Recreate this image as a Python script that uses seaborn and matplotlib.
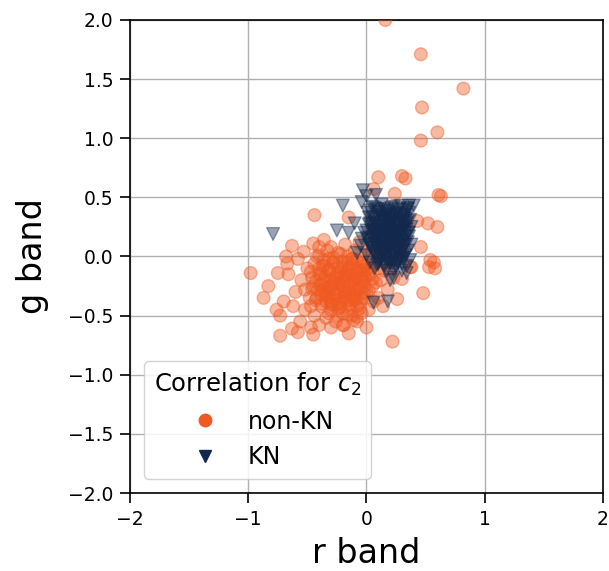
import numpy as np
import pandas as pd
import matplotlib
matplotlib.use("Agg")
import matplotlib.pyplot as plt
from matplotlib.lines import Line2D
import seaborn as sns

# non-KN points (r band, g band): scattered points
nonkn_r = [0.16, 0.46, 0.82, 0.47, 0.60, 0.46, 0.30, 0.33, 0.10, 0.06, 0.24, 0.63, 0.61, -0.44, -0.15,
           0.43, 0.52, 0.60, 0.57, 0.53, 0.38, 0.30, 0.48, 0.26, 0.22, -0.98, -0.83, -0.87, -0.73, -0.73,
           -0.63, -0.47, -0.19, -0.11, -0.63, -0.45, -0.67, -0.75, 0.46, 0.54, 0.58, 0.37, 0.23,
           -0.30, -0.25, -0.20, -0.15, -0.10, -0.35, -0.40, -0.28, -0.18, -0.05,
           -0.22, -0.12, -0.02, -0.45, -0.38, -0.30, -0.20, -0.08, 0.00, 0.03,
           -0.50, -0.48, -0.42, -0.33, -0.26, -0.14, -0.07, -0.36, -0.24, -0.16,
           -0.55, -0.52, -0.44, -0.34, -0.26, -0.12, -0.04, 0.05, 0.08, 0.02,
           -0.10, -0.18, -0.30, -0.40, -0.58, -0.60, -0.62, -0.56, -0.40, -0.30,
           -0.20, -0.08, 0.02, 0.10, 0.12, 0.10, -0.32, -0.22, -0.12, -0.02,
           -0.28, -0.18, -0.08, -0.38, -0.46, -0.34, -0.24, -0.14, -0.04, 0.06,
           -0.27, -0.17, -0.21, -0.11, -0.31, -0.19, -0.09, -0.01, -0.41, -0.47,
           -0.66, -0.70, -0.53, -0.36, -0.06, 0.05, 0.12, 0.15, 0.18, 0.14,
           -0.68, -0.76, -0.58, -0.45, -0.15, 0.00, 0.20, 0.25, 0.30, 0.20,
           -0.33, -0.23, -0.13, -0.03, -0.37, -0.29, -0.09, -0.43, 0.08, -0.52]
nonkn_g = [2.00, 1.71, 1.42, 1.26, 1.05, 0.98, 0.68, 0.66, 0.67, 0.57, 0.53, 0.51, 0.52, 0.35, 0.33,
           0.30, 0.28, 0.25, -0.05, -0.09, -0.09, -0.19, -0.31, -0.36, -0.72, -0.14, -0.25, -0.35, -0.50, -0.67,
           -0.61, -0.60, -0.58, -0.54, 0.09, 0.11, -0.06, -0.14, 0.08, -0.03, -0.10, -0.09, -0.18,
           -0.20, -0.15, -0.25, -0.10, -0.30, -0.30, -0.15, -0.05, -0.38, -0.20,
           0.02, -0.02, -0.08, -0.25, -0.40, -0.45, -0.48, -0.42, -0.30, -0.15,
           -0.10, -0.35, 0.00, 0.05, -0.32, -0.22, -0.12, -0.22, -0.40, -0.05,
           -0.20, -0.45, -0.50, -0.52, -0.55, -0.50, -0.35, -0.25, -0.05, 0.05,
           0.05, 0.10, 0.08, 0.08, -0.02, -0.30, -0.42, -0.55, -0.58, -0.60,
           -0.58, -0.55, -0.45, -0.35, -0.20, -0.10, -0.12, -0.18, -0.15, -0.25,
           -0.28, -0.30, -0.28, -0.32, -0.18, -0.38, -0.44, -0.44, -0.48, -0.38,
           -0.22, -0.16, -0.10, -0.20, -0.34, -0.34, -0.36, -0.18, -0.28, -0.42,
           -0.15, -0.38, 0.04, 0.14, 0.12, 0.15, 0.02, -0.12, -0.28, -0.42,
           0.00, -0.45, -0.64, -0.66, -0.65, -0.60, -0.10, -0.02, 0.05, 0.08,
           -0.26, -0.23, -0.33, -0.12, -0.08, -0.41, -0.17, -0.37, -0.22, -0.28]

# non-KN points: dense core
nonkn_core_r = [-0.40, -0.32, -0.24, -0.16, -0.08, 0.00,
                -0.44, -0.36, -0.28, -0.20, -0.12, -0.04, 0.04,
                -0.47, -0.39, -0.31, -0.23, -0.15, -0.07, 0.01,
                -0.43, -0.35, -0.27, -0.19, -0.11, -0.03, 0.05,
                -0.46, -0.38, -0.30, -0.22, -0.14, -0.06, 0.02,
                -0.42, -0.34, -0.26, -0.18, -0.10, -0.02,
                -0.38, -0.30, -0.22, -0.14, -0.06,
                -0.32, -0.24, -0.16, -0.08,
                -0.36, -0.28, -0.20, -0.12, -0.04,
                -0.40, -0.32, -0.24, -0.16, -0.08, 0.00,
                -0.35, -0.27, -0.19, -0.11, -0.03,
                -0.39, -0.31, -0.23, -0.15, -0.07,
                -0.34, -0.26, -0.18, -0.10, -0.02,
                -0.30, -0.22, -0.14, -0.06]
nonkn_core_g = [0.01, -0.02, 0.03, 0.00, -0.03, 0.02,
                -0.06, -0.08, -0.05, -0.09, -0.07, -0.06, -0.08,
                -0.13, -0.15, -0.12, -0.14, -0.16, -0.13, -0.15,
                -0.21, -0.19, -0.22, -0.20, -0.23, -0.21, -0.19,
                -0.27, -0.29, -0.26, -0.28, -0.30, -0.27, -0.29,
                -0.35, -0.33, -0.36, -0.34, -0.37, -0.35,
                -0.42, -0.40, -0.43, -0.41, -0.44,
                -0.48, -0.50, -0.49, -0.51,
                -0.03, -0.01, -0.04, -0.02, -0.05,
                -0.10, -0.11, -0.09, -0.12, -0.10, -0.11,
                -0.17, -0.18, -0.16, -0.19, -0.17,
                -0.24, -0.25, -0.23, -0.26, -0.24,
                -0.31, -0.32, -0.30, -0.33, -0.31,
                -0.38, -0.39, -0.37, -0.40]

# KN points (r band, g band): cluster and outliers
kn_r = [0.05, 0.13, 0.21, 0.29, 0.35, 0.10, 0.18, 0.26, 0.33, 0.02,
        0.08, 0.15, 0.23, 0.30, 0.37, 0.04, 0.11, 0.19, 0.27, 0.34,
        -0.02, 0.07, 0.14, 0.22, 0.29, 0.36, 0.01, 0.09, 0.17, 0.25,
        0.32, 0.38, -0.05, 0.04, 0.12, 0.20, 0.28, 0.35, -0.08, 0.00,
        0.08, 0.16, 0.24, 0.31, 0.37, 0.03, 0.11, 0.19, 0.27, 0.34,
        0.07, 0.15, 0.23, 0.30, 0.12, 0.20, 0.06, 0.24, 0.16, 0.10,
        0.28, 0.18, 0.14, 0.22, 0.26, 0.32, 0.08, 0.14, 0.20, 0.26,
        0.03, 0.31, 0.17, 0.09, 0.27, 0.35, 0.05, 0.12, 0.21, 0.33,
        0.00, 0.16, 0.24, 0.30, 0.11, 0.19, 0.27, 0.06, 0.13, 0.22,
        0.29, 0.35, 0.01, 0.38, 0.36, -0.04, 0.09, 0.17, 0.25, 0.33,
        0.15, 0.21, 0.07, 0.29, 0.18, 0.02, 0.25, 0.12, 0.31, 0.19,
        -0.79, -0.20, -0.04, -0.03, 0.00, -0.25, -0.15, 0.36, 0.40,
        0.23, 0.06, 0.18, 0.20, 0.34, -0.10, 0.08]
kn_g = [0.42, 0.44, 0.41, 0.43, 0.40, 0.38, 0.36, 0.37, 0.35, 0.33,
        0.31, 0.30, 0.32, 0.29, 0.31, 0.25, 0.26, 0.24, 0.25, 0.23,
        0.20, 0.19, 0.21, 0.18, 0.20, 0.17, 0.14, 0.13, 0.15, 0.12,
        0.14, 0.10, 0.09, 0.07, 0.08, 0.06, 0.08, 0.05, 0.03, 0.01,
        0.02, 0.00, 0.01, -0.01, -0.03, -0.05, -0.04, -0.06, -0.05, -0.08,
        -0.10, -0.09, -0.11, -0.12, 0.34, 0.28, 0.22, 0.22, 0.10, 0.18,
        0.16, 0.20, 0.26, 0.14, 0.30, 0.26, 0.10, 0.04, -0.02, 0.04,
        0.28, 0.06, 0.39, 0.40, 0.40, 0.30, 0.16, 0.13, 0.10, 0.10,
        0.22, 0.33, 0.26, 0.34, 0.22, 0.17, 0.21, 0.04, -0.01, -0.06,
        -0.02, 0.20, 0.37, 0.25, 0.37, 0.15, -0.07, -0.12, -0.09, 0.01,
        0.05, 0.35, 0.28, 0.12, 0.08, 0.10, 0.18, 0.20, 0.22, 0.30,
        0.19, 0.43, 0.46, 0.56, 0.51, 0.22, 0.20, 0.43, 0.43,
        -0.18, -0.39, -0.38, -0.20, -0.14, 0.28, 0.52]

# KN points: dense core
kn_core_r = [0.03, 0.07, 0.11, 0.15, 0.19, 0.23, 0.27, 0.31, 0.35,
             0.05, 0.09, 0.13, 0.17, 0.21, 0.25, 0.29, 0.33,
             0.02, 0.06, 0.10, 0.14, 0.18, 0.22, 0.26, 0.30, 0.34,
             0.04, 0.08, 0.12, 0.16, 0.20, 0.24, 0.28, 0.32, 0.36,
             0.01, 0.05, 0.09, 0.13, 0.17, 0.21, 0.25, 0.29, 0.33,
             0.03, 0.07, 0.11, 0.15, 0.19, 0.23, 0.27, 0.31, 0.35,
             0.06, 0.10, 0.14, 0.18, 0.22, 0.26, 0.30,
             0.08, 0.12, 0.16, 0.20, 0.24, 0.28, 0.32,
             0.10, 0.15, 0.20, 0.25, 0.30]
kn_core_g = [0.39, 0.41, 0.37, 0.40, 0.38, 0.42, 0.36, 0.39, 0.41,
             0.33, 0.35, 0.32, 0.34, 0.31, 0.36, 0.33, 0.32,
             0.27, 0.29, 0.26, 0.28, 0.30, 0.27, 0.25, 0.29, 0.28,
             0.22, 0.20, 0.23, 0.21, 0.24, 0.19, 0.22, 0.23, 0.20,
             0.16, 0.15, 0.17, 0.14, 0.16, 0.18, 0.15, 0.13, 0.17,
             0.10, 0.11, 0.09, 0.12, 0.08, 0.10, 0.11, 0.09, 0.12,
             0.04, 0.05, 0.03, 0.06, 0.02, 0.04, 0.05,
             -0.01, 0.00, -0.02, 0.01, -0.03, 0.00, -0.01,
             -0.06, -0.07, -0.05, -0.08, -0.06]

classes = ["non-KN", "KN"]
colors = {"non-KN": "#f05a22", "KN": "#12284c"}
xtick_vals = [-2, -1, 0, 1, 2]
xtick_labels = ["\u22122", "\u22121", "0", "1", "2"]
ytick_vals = [-2.0, -1.5, -1.0, -0.5, 0.0, 0.5, 1.0, 1.5, 2.0]
ytick_labels = ["\u22122.0", "\u22121.5", "\u22121.0", "\u22120.5", "0.0", "0.5", "1.0", "1.5", "2.0"]

all_nonkn_r = nonkn_r + nonkn_core_r
all_nonkn_g = nonkn_g + nonkn_core_g
all_kn_r = kn_r + kn_core_r
all_kn_g = kn_g + kn_core_g

df = pd.DataFrame({
    "r": all_nonkn_r + all_kn_r,
    "g": all_nonkn_g + all_kn_g,
    "cls": ["non-KN"] * len(all_nonkn_r) + ["KN"] * len(all_kn_r),
})

sns.set_style("ticks")
plt.rcParams.update({
    "text.color": "black", "axes.labelcolor": "black",
    "xtick.color": "black", "ytick.color": "black",
    "xtick.labelsize": 13.5, "ytick.labelsize": 13.5,
    "font.family": ["DejaVu Sans"],
})
fig = plt.figure(figsize=(6.09, 5.71), dpi=100)
ax = fig.add_axes([0.2135, 0.1366, 0.7765, 0.8284])

sns.scatterplot(data=df, x="r", y="g", hue="cls", style="cls",
                markers={"non-KN": "o", "KN": "v"}, palette=colors,
                hue_order=classes, style_order=classes,
                s=85, alpha=0.42, edgecolor="face", linewidth=1.0,
                legend=False, ax=ax, zorder=3)

ax.set_xlim(-2, 2)
ax.set_ylim(-2, 2)
ax.set_xticks(xtick_vals)
ax.set_yticks(ytick_vals)
ax.set_xticklabels(xtick_labels, fontsize=13.5)
ax.set_yticklabels(ytick_labels, fontsize=13.5)
ax.grid(True, color="#b0b0b0", linewidth=1.0, zorder=0)
ax.set_axisbelow(True)
for sp in ax.spines.values():
    sp.set_visible(True)
    sp.set_color("black")
    sp.set_linewidth(1.2)
ax.tick_params(axis="both", length=7, width=1.2, pad=5, color="black", direction="out")
ax.set_xlabel("r band", fontsize=24, labelpad=6)
ax.set_ylabel("g band", fontsize=24, labelpad=14)

handles = [
    Line2D([], [], marker="o", linestyle="none", color=colors["non-KN"], markersize=9),
    Line2D([], [], marker="v", linestyle="none", color=colors["KN"], markersize=9),
]
leg = ax.legend(handles, classes, title="Correlation for $c_2$", loc="lower left",
                fontsize=17, title_fontsize=17.5, labelspacing=0.5,
                borderaxespad=0.6, framealpha=0.85)

fig.savefig("out.png", dpi=100)
